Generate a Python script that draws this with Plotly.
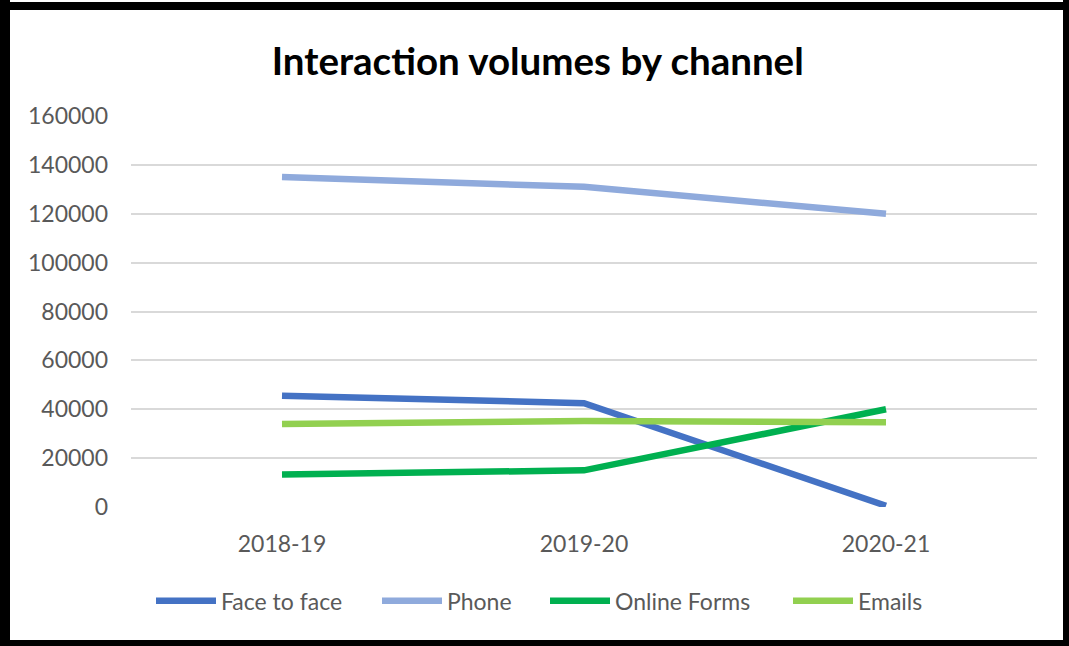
import plotly.graph_objects as go

# Interaction volumes per channel, by financial year
years = ["2018-19", "2019-20", "2020-21"]
face_to_face = [45500, 42500, 500]
phone = [135000, 131000, 120000]
online_forms = [13300, 15000, 40000]
emails = [34000, 35200, 34700]

y_ticks = [0, 20000, 40000, 60000, 80000, 100000, 120000, 140000, 160000]

W, H = 1069, 646
L, R, T, B = 131, 32, 116, 139

series = [
    ("Face to face", face_to_face, "#4472C4"),
    ("Phone", phone, "#8FAADC"),
    ("Online Forms", online_forms, "#00B050"),
    ("Emails", emails, "#92D050"),
]

# left edge (px) of each legend entry along the bottom row
legend_left = [151, 377, 545, 788]
legend_ids = ["legend", "legend2", "legend3", "legend4"]

fig = go.Figure()
for (name, vals, color), lid in zip(series, legend_ids):
    fig.add_trace(go.Scatter(
        x=years, y=vals, name=name, mode="lines", legend=lid,
        showlegend=True, line=dict(color=color, width=6.5),
    ))

# frame around the whole chart, in paper units
pw, ph = W - L - R, H - T - B


def px_x(v):
    return (v - L) / pw


def px_y(v):
    return (H - B - v) / ph


frame = [(0, 0, 10, H), (0, 2, W, 10), (1063, 0, W, H), (0, 640, W, H)]
shapes = [
    dict(type="rect", xref="paper", yref="paper",
         x0=px_x(a), x1=px_x(c), y0=px_y(d), y1=px_y(b),
         fillcolor="black", line=dict(width=0), layer="above")
    for a, b, c, d in frame
]

legends = {}
for lid, left in zip(legend_ids, legend_left):
    legends[lid] = dict(
        orientation="h", xref="container", yref="container",
        x=left / W, xanchor="left", y=0.07, yanchor="middle",
        font=dict(size=23, color="#595959"), itemwidth=60,
        bgcolor="rgba(0,0,0,0)",
    )

fig.update_layout(
    width=W, height=H,
    showlegend=True,
    margin=dict(l=L, r=R, t=T, b=B),
    paper_bgcolor="white", plot_bgcolor="white",
    font=dict(family="Lato, 'Open Sans', sans-serif", color="#595959", size=23),
    title=dict(
        text="<b>Interaction volumes by channel</b>",
        font=dict(family="Lato, sans-serif", size=38.5, color="black"),
        x=0.503, xanchor="center", xref="container",
        y=0.905, yanchor="middle", yref="container",
    ),
    xaxis=dict(
        range=[-0.5, 2.5], showgrid=False, zeroline=False, showline=False,
        ticks="", ticklabelstandoff=21,
        tickfont=dict(size=23, color="#595959"),
    ),
    yaxis=dict(
        range=[0, 160000], tickvals=y_ticks, ticktext=[str(v) for v in y_ticks],
        showgrid=True, gridcolor="#D9D9D9", gridwidth=1.5,
        zeroline=False, showline=False, ticks="", ticklabelstandoff=22,
        tickfont=dict(size=23, color="#595959"),
    ),
    shapes=shapes,
    **legends,
)

fig.write_html("out.html")
